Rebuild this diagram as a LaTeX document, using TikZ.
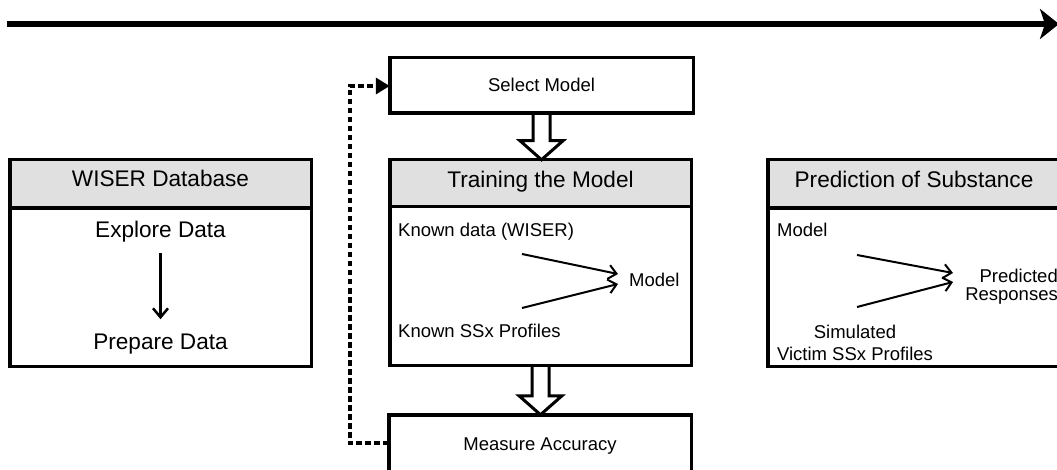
\documentclass[tikz,border=0pt]{standalone}
\usepackage{fontspec}
\setmainfont{Liberation Sans}
\usetikzlibrary{arrows.meta,calc}

\definecolor{headgray}{RGB}{224,224,224}

\tikzset{
  panel/.style={draw, line width=3.5pt, inner sep=0pt, outer sep=0pt, anchor=north west},
  headband/.style={draw, fill=headgray, line width=3.5pt, inner sep=0pt, outer sep=0pt, anchor=north west},
  bigtext/.style={inner sep=0pt, font=\fontsize{22.6}{27}\selectfont},
  smalltext/.style={inner sep=0pt, font=\fontsize{18.5}{22}\selectfont},
  flow/.style={line width=2pt, -{Straight Barb[length=8pt,width=14pt,line width=2pt]}},
  downflow/.style={line width=2.5pt, -{Straight Barb[length=9pt,width=15pt,line width=2.5pt]}},
  hollow/.style={draw, line width=3pt, line join=miter},
  loopback/.style={line width=4pt, dash pattern=on 5.5pt off 3.5pt, -{Triangle[length=14pt,width=16pt]}},
  timeline/.style={line width=6pt, -{Stealth[length=19pt,width=30pt,inset=5pt]}},
}

\begin{document}
\begin{tikzpicture}[x=1pt,y=-1pt]
\useasboundingbox (0,0) rectangle (1057,470);
\clip (0,0) rectangle (1057,470);

% process direction
\coordinate (tl) at (7,24);
\coordinate (tr) at (1059,24);
\draw[timeline] (tl) -- (tr);

% data panel
\node[panel, minimum width=301.5pt, minimum height=206.5pt] (wiser) at (9.75,159.75) {};
\node[headband, minimum width=301.5pt, minimum height=48.25pt] (wiserhd) at (wiser.north west) {};
\node[bigtext, anchor=base] (wisertitle) at (160.5,187) {WISER Database};
\node[bigtext, anchor=base] (explore) at (160.5,238) {Explore Data};
\node[bigtext, anchor=base] (prepare) at (160.5,349) {Prepare Data};
\draw[downflow, shorten <=10pt, shorten >=14pt] (explore) -- (prepare);

% model selection / training / evaluation column
\node[panel, minimum width=303.5pt, minimum height=55.5pt] (select) at (389.75,57.75) {};
\node[smalltext, anchor=base] (selecttxt) at (541.5,91.5) {Select Model};

\node[panel, minimum width=301.5pt, minimum height=205.5pt] (train) at (389.75,159.75) {};
\node[headband, minimum width=301.5pt, minimum height=47pt] (trainhd) at (train.north west) {};
\node[bigtext, anchor=base] (traintitle) at (540.5,188) {Training the Model};
\node[smalltext, anchor=base west] (known) at (398,237) {Known data (WISER)};
\node[smalltext, anchor=base west] (model) at (629,287) {Model};
\node[smalltext, anchor=base west] (ssx) at (398,337) {Known SSx Profiles};
\coordinate (ta1) at (522,254);
\coordinate (ta2) at (522,308);
\coordinate (tm1) at (618,274);
\coordinate (tm2) at (618,284);
\draw[flow] (ta1) -- (tm1);
\draw[flow] (ta2) -- (tm2);

\node[panel, minimum width=302.5pt, minimum height=57pt] (measure) at (388.75,414.75) {};
\node[smalltext, anchor=base] (measuretxt) at (540,450) {Measure Accuracy};

% block arrows between the stages
\draw[hollow] let \p1=(select.south), \p2=(train.north) in
  (\x1-8.5pt,\y1) -- (\x1-8.5pt,\y2+19pt) -- (\x1-21.5pt,\y2+19pt) -- (\x1,\y2)
  -- (\x1+21.5pt,\y2+19pt) -- (\x1+8.5pt,\y2+19pt) -- (\x1+8.5pt,\y1);
\draw[hollow] let \p1=(train.south), \p2=(measure.north) in
  (\x1-8.5pt,\y1) -- (\x1-8.5pt,\y2+19pt) -- (\x1-21.5pt,\y2+19pt) -- (\x1,\y2)
  -- (\x1+21.5pt,\y2+19pt) -- (\x1+8.5pt,\y2+19pt) -- (\x1+8.5pt,\y1);

% feedback loop
\coordinate (bend) at (349.5,86);
\draw[loopback] (measure.west) -- (measure.west -| bend) -- (bend) -- (bend -| select.west);

% prediction panel
\node[panel, minimum width=294pt, minimum height=206.5pt] (pred) at (767.75,159.75) {};
\node[headband, minimum width=294pt, minimum height=48.25pt] (predhd) at (pred.north west) {};
\node[bigtext, anchor=base] (predtitle) at (914,188) {Prediction of Substance};
\node[smalltext, anchor=base west] (pmodel) at (777,237) {Model};
\node[smalltext, anchor=north east, align=right, font=\fontsize{18.5}{18}\selectfont] (resp) at (1058,268.8) {Predicted\\Responses};
\node[smalltext, anchor=north, align=center] (sim) at (855,324.8) {Simulated\\Victim SSx Profiles};
\coordinate (pa1) at (857,255);
\coordinate (pa2) at (857,307);
\coordinate (pm1) at (953,273);
\coordinate (pm2) at (953,282);
\draw[flow] (pa1) -- (pm1);
\draw[flow] (pa2) -- (pm2);
\end{tikzpicture}
\end{document}
